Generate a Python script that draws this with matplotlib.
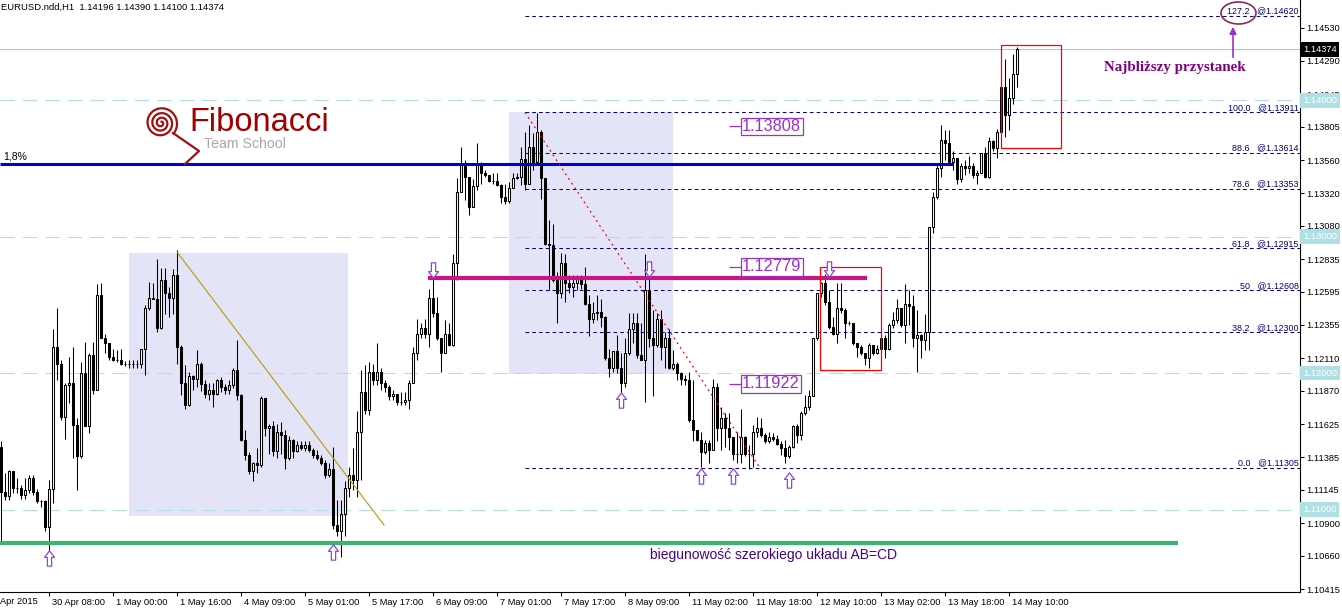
import numpy as np
import matplotlib
matplotlib.use('Agg')
import matplotlib.pyplot as plt
import matplotlib.patches as patches
import matplotlib.transforms as mtransforms
from matplotlib.path import Path

plt.rcParams['font.family'] = ['Liberation Sans', 'DejaVu Sans']

# EURUSD H1 candles (open = previous close)
first_open = 1.1146
closes = [1.1113, 1.1110, 1.1128, 1.1116, 1.1116, 1.1111, 1.1114, 1.1123, 1.1113, 1.1106,
          1.1106, 1.1087, 1.1115, 1.1219, 1.1207, 1.1168, 1.1191, 1.1193, 1.1162, 1.1139,
          1.1200, 1.1161, 1.1213, 1.1188, 1.1257, 1.1226, 1.1222, 1.1212, 1.1210, 1.1210,
          1.1207, 1.1207, 1.1207, 1.1207, 1.1207, 1.1218, 1.1248, 1.1255, 1.1254, 1.1233,
          1.1268, 1.1259, 1.1255, 1.1272, 1.1219, 1.1193, 1.1177, 1.1198, 1.1196, 1.1207,
          1.1192, 1.1185, 1.1188, 1.1185, 1.1195, 1.1190, 1.1188, 1.1191, 1.1202, 1.1184,
          1.1151, 1.1140, 1.1128, 1.1134, 1.1133, 1.1182, 1.1160, 1.1161, 1.1143, 1.1157,
          1.1155, 1.1138, 1.1151, 1.1143, 1.1147, 1.1145, 1.1147, 1.1144, 1.1140, 1.1138,
          1.1134, 1.1125, 1.1130, 1.1089, 1.1084, 1.1097, 1.1116, 1.1125, 1.1122, 1.1157,
          1.1186, 1.1173, 1.1201, 1.1195, 1.1201, 1.1193, 1.1190, 1.1183, 1.1185, 1.1179,
          1.1179, 1.1180, 1.1193, 1.1215, 1.1229, 1.1233, 1.1229, 1.1255, 1.1244, 1.1226,
          1.1215, 1.1229, 1.1221, 1.1281, 1.1333, 1.1353, 1.1344, 1.1322, 1.1337, 1.1354,
          1.1347, 1.1345, 1.1341, 1.1341, 1.1338, 1.1329, 1.1326, 1.1336, 1.1343, 1.1344,
          1.1357, 1.1339, 1.1366, 1.1355, 1.1377, 1.1343, 1.1295, 1.1294, 1.1268, 1.1259,
          1.1281, 1.1266, 1.1263, 1.1266, 1.1269, 1.1265, 1.1251, 1.1240, 1.1244, 1.1245,
          1.1241, 1.1211, 1.1204, 1.1216, 1.1204, 1.1193, 1.1215, 1.1232, 1.1237, 1.1213,
          1.1210, 1.1261, 1.1226, 1.1221, 1.1240, 1.1219, 1.1226, 1.1204, 1.1207, 1.1200,
          1.1196, 1.1195, 1.1166, 1.1158, 1.1151, 1.1142, 1.1149, 1.1144, 1.1190, 1.1160,
          1.1167, 1.1160, 1.1153, 1.1141, 1.1141, 1.1153, 1.1141, 1.1141, 1.1157, 1.1160,
          1.1155, 1.1150, 1.1153, 1.1152, 1.1148, 1.1145, 1.1139, 1.1146, 1.1161, 1.1155,
          1.1171, 1.1175, 1.1183, 1.1226, 1.1259, 1.1266, 1.1252, 1.1234, 1.1229, 1.1248,
          1.1246, 1.1237, 1.1237, 1.1222, 1.1219, 1.1215, 1.1211, 1.1221, 1.1215, 1.1218,
          1.1226, 1.1218, 1.1235, 1.1239, 1.1248, 1.1235, 1.1251, 1.1249, 1.1226, 1.1228,
          1.1224, 1.1230, 1.1307, 1.1329, 1.1350, 1.1371, 1.1369, 1.1355, 1.1358, 1.1342,
          1.1352, 1.1350, 1.1352, 1.1345, 1.1347, 1.1361, 1.1344, 1.1370, 1.1365, 1.1377,
          1.1410, 1.1389, 1.1402, 1.14196, 1.14374]
highs = [1.1150, 1.1127, 1.1129, 1.1128, 1.1123, 1.1118, 1.1123, 1.1125, 1.1125, 1.1115,
         1.1107, 1.1107, 1.1122, 1.1232, 1.1248, 1.1210, 1.1193, 1.1212, 1.1219, 1.1167,
         1.1208, 1.1223, 1.1215, 1.1223, 1.1265, 1.1266, 1.1229, 1.1222, 1.1218, 1.1217,
         1.1218, 1.1209, 1.1210, 1.1210, 1.1210, 1.1218, 1.1250, 1.1267, 1.1266, 1.1284,
         1.1277, 1.1277, 1.1263, 1.1276, 1.1290, 1.1221, 1.1206, 1.1201, 1.1199, 1.1217,
         1.1208, 1.1195, 1.1193, 1.1193, 1.1196, 1.1197, 1.1192, 1.1195, 1.1204, 1.1224,
         1.1185, 1.1158, 1.1142, 1.1135, 1.1145, 1.1183, 1.1182, 1.1163, 1.1165, 1.1163,
         1.1164, 1.1158, 1.1154, 1.1152, 1.1150, 1.1150, 1.1150, 1.1150, 1.1145, 1.1144,
         1.1140, 1.1136, 1.1134, 1.1146, 1.1107, 1.1107, 1.1121, 1.1131, 1.1145, 1.1172,
         1.1202, 1.1206, 1.1208, 1.1207, 1.1222, 1.1204, 1.1195, 1.1191, 1.1188, 1.1185,
         1.1186, 1.1186, 1.1195, 1.1219, 1.1240, 1.1237, 1.1240, 1.1262, 1.1270, 1.1256,
         1.1226, 1.1239, 1.1237, 1.1287, 1.1343, 1.1366, 1.1356, 1.1344, 1.1342, 1.1369,
         1.1355, 1.1349, 1.1345, 1.1347, 1.1347, 1.1339, 1.1339, 1.1340, 1.1347, 1.1347,
         1.1366, 1.1377, 1.1382, 1.1376, 1.1391, 1.1378, 1.1343, 1.1312, 1.1309, 1.1274,
         1.1288, 1.1287, 1.1272, 1.1272, 1.1272, 1.1272, 1.1278, 1.1257, 1.1252, 1.1257,
         1.1254, 1.1242, 1.1218, 1.1216, 1.1228, 1.1215, 1.1226, 1.1244, 1.1244, 1.1244,
         1.1237, 1.1287, 1.1273, 1.1246, 1.1244, 1.1246, 1.1230, 1.1232, 1.1217, 1.1208,
         1.1201, 1.1199, 1.1201, 1.1195, 1.1157, 1.1157, 1.1151, 1.1151, 1.1196, 1.1193,
         1.1175, 1.1171, 1.1171, 1.1153, 1.1157, 1.1174, 1.1154, 1.1147, 1.1162, 1.1168,
         1.1167, 1.1156, 1.1157, 1.1156, 1.1155, 1.1150, 1.1151, 1.1147, 1.1162, 1.1163,
         1.1172, 1.1184, 1.1188, 1.1226, 1.1259, 1.1267, 1.1273, 1.1261, 1.1241, 1.1266,
         1.1266, 1.1248, 1.1238, 1.1237, 1.1222, 1.1221, 1.1215, 1.1222, 1.1221, 1.1221,
         1.1228, 1.1228, 1.1237, 1.1245, 1.1254, 1.1248, 1.1265, 1.1261, 1.1257, 1.1246,
         1.1229, 1.1243, 1.1307, 1.1333, 1.1353, 1.1382, 1.1378, 1.1378, 1.1363, 1.1358,
         1.1354, 1.1356, 1.1359, 1.1354, 1.1349, 1.1361, 1.1366, 1.1373, 1.1371, 1.1379,
         1.1411, 1.1430, 1.1416, 1.1434, 1.14390]
lows = [1.1075, 1.1107, 1.1107, 1.1112, 1.1112, 1.1108, 1.1108, 1.1112, 1.1111, 1.1105,
        1.1102, 1.1084, 1.1070, 1.1105, 1.1195, 1.1166, 1.1152, 1.1178, 1.1138, 1.1114,
        1.1138, 1.1161, 1.1156, 1.1185, 1.1188, 1.1226, 1.1215, 1.1210, 1.1209, 1.1208,
        1.1206, 1.1205, 1.1204, 1.1204, 1.1204, 1.1204, 1.1199, 1.1246, 1.1254, 1.1230,
        1.1232, 1.1243, 1.1241, 1.1243, 1.1207, 1.1184, 1.1174, 1.1176, 1.1188, 1.1190,
        1.1187, 1.1182, 1.1180, 1.1175, 1.1184, 1.1186, 1.1185, 1.1185, 1.1189, 1.1180,
        1.1150, 1.1136, 1.1126, 1.1121, 1.1127, 1.1131, 1.1154, 1.1141, 1.1139, 1.1138,
        1.1141, 1.1130, 1.1136, 1.1138, 1.1142, 1.1144, 1.1143, 1.1142, 1.1138, 1.1136,
        1.1133, 1.1123, 1.1124, 1.1086, 1.1081, 1.1065, 1.1081, 1.1109, 1.1114, 1.1109,
        1.1122, 1.1170, 1.1169, 1.1191, 1.1191, 1.1188, 1.1186, 1.1180, 1.1180, 1.1177,
        1.1177, 1.1177, 1.1174, 1.1193, 1.1210, 1.1226, 1.1226, 1.1219, 1.1241, 1.1224,
        1.1201, 1.1215, 1.1220, 1.1220, 1.1268, 1.1333, 1.1327, 1.1316, 1.1322, 1.1334,
        1.1339, 1.1344, 1.1340, 1.1339, 1.1337, 1.1325, 1.1324, 1.1325, 1.1336, 1.1342,
        1.1338, 1.1334, 1.1339, 1.1349, 1.1354, 1.1328, 1.1294, 1.1261, 1.1267, 1.1237,
        1.1255, 1.1252, 1.1259, 1.1256, 1.1261, 1.1262, 1.1250, 1.1227, 1.1237, 1.1239,
        1.1234, 1.1210, 1.1197, 1.1201, 1.1200, 1.1182, 1.1190, 1.1213, 1.1222, 1.1211,
        1.1210, 1.1179, 1.1219, 1.1183, 1.1219, 1.1210, 1.1204, 1.1203, 1.1202, 1.1195,
        1.1191, 1.1191, 1.1164, 1.1150, 1.1150, 1.1131, 1.1141, 1.1134, 1.1144, 1.1150,
        1.1144, 1.1146, 1.1144, 1.1136, 1.1134, 1.1134, 1.1139, 1.1130, 1.1131, 1.1153,
        1.1153, 1.1149, 1.1149, 1.1150, 1.1147, 1.1140, 1.1134, 1.1138, 1.1145, 1.1149,
        1.1151, 1.1169, 1.1173, 1.1183, 1.1224, 1.1256, 1.1250, 1.1232, 1.1228, 1.1222,
        1.1244, 1.1226, 1.1235, 1.1221, 1.1212, 1.1213, 1.1206, 1.1204, 1.1213, 1.1214,
        1.1215, 1.1211, 1.1217, 1.1233, 1.1237, 1.1234, 1.1222, 1.1235, 1.1219, 1.1201,
        1.1211, 1.1217, 1.1217, 1.1303, 1.1328, 1.1344, 1.1356, 1.1354, 1.1349, 1.1339,
        1.1340, 1.1345, 1.1347, 1.1343, 1.1339, 1.1347, 1.1343, 1.1343, 1.1363, 1.1358,
        1.1376, 1.1373, 1.1378, 1.1397, 1.14100]

# axis labels
y_tick_labels = ['1.14530', '1.14290', '1.14045', '1.13805', '1.13560', '1.13320', '1.13080',
                 '1.12835', '1.12595', '1.12355', '1.12110', '1.11870', '1.11625', '1.11385',
                 '1.11145', '1.10900', '1.10660', '1.10415']
x_tick_bars = [12, 28, 44, 60, 76, 92, 108, 124, 140, 156, 172, 188, 204, 220, 236, 252]
x_tick_labels = ['30 Apr 08:00', '1 May 00:00', '1 May 16:00', '4 May 09:00', '5 May 01:00',
                 '5 May 17:00', '6 May 09:00', '7 May 01:00', '7 May 17:00', '8 May 09:00',
                 '11 May 02:00', '11 May 18:00', '12 May 10:00', '13 May 02:00',
                 '13 May 18:00', '14 May 10:00']

# drawn objects
round_levels = [1.14, 1.13, 1.12, 1.11]
fib_names = ['127.2', '100.0', '88.6', '78.6', '61.8', '50', '38.2', '0.0']
fib_prices = [1.14620, 1.13911, 1.13614, 1.13353, 1.12915, 1.12608, 1.12300, 1.11305]
fib_start = 131
fib_anchor = [(131, 1.13911), (189.75, 1.11305)]
last_price = 1.14374
blue_level, blue_end = 1.13532, 238
magenta_level, magenta_span = 1.12697, (106.75, 216.5)
green_level, green_end = 1.10755, 294.25
trend_line = [(44, 1.12888), (95.75, 1.10887)]
shade_boxes = [(32, 86.75, 1.10953, 1.12881), (127, 168, 1.11994, 1.13914)]
red_boxes = [(204.75, 220, 1.12023, 1.12778), (250, 265, 1.13650, 1.14405)]
price_tags = [1.13808, 1.12779, 1.11922]
up_marks = [(12, 1.10645), (83, 1.10689), (155, 1.11803), (175, 1.11246), (183, 1.11246), (197, 1.11217)]
down_marks = [(108, 1.12756), (162, 1.12763), (207, 1.12763)]

W, H = 1342, 608
fig = plt.figure(figsize=(W / 100, H / 100), dpi=100)
ax = fig.add_axes([0, 16 / H, 1300 / W, 592 / H])
ax.set_xlim(-0.25, 324.75)
ax.set_ylim(1.10396, 1.14735)

purple = '#9932cc'
navy = '#000080'

# background boxes
for x0, x1, p0, p1 in shade_boxes:
    ax.add_patch(patches.Rectangle((x0, p0), x1 - x0, p1 - p0, fc='#e4e4f8', ec='none', zorder=0.5))

for lv in round_levels:
    ax.axhline(lv, color='#b0e0e6', lw=0.75, ls=(0, (14, 7.5)), zorder=1)

ax.axhline(last_price, color='#c0c0c0', lw=0.75, zorder=1)

for name, p in zip(fib_names, fib_prices):
    ax.hlines(p, fib_start, 324.75, color=navy, lw=0.75, ls=(0, (3.5, 3)), zorder=1.5)
    ax.text(324.4, p + 0.00003, name + '   @' + f'{p:.5f}', ha='right', va='bottom',
            fontsize=6.4, color=navy, zorder=6)

# candles
idx = np.arange(len(closes))
c = np.array(closes)
o = np.concatenate([[first_open], c[:-1]])
ax.vlines(idx, lows, highs, color='black', lw=0.75, zorder=3)
ax.bar(idx, c - o, bottom=o, width=0.55, color=np.where(c >= o, 'white', 'black'),
       edgecolor='black', linewidth=0.75, zorder=4)

# lines
ax.hlines(blue_level, -0.25, blue_end, color='#0000cd', lw=2.2, zorder=5)
ax.hlines(magenta_level, *magenta_span, color='#c71585', lw=3.0, zorder=5)
ax.hlines(green_level, -0.25, green_end, color='#3cb371', lw=3.0, zorder=5)
ax.plot(*zip(*trend_line), color='#b89b00', lw=0.8, zorder=5)
ax.plot(*zip(*fib_anchor), color='red', lw=0.9, ls=(0, (1.5, 3)), zorder=5)

for x0, x1, p0, p1 in red_boxes:
    ax.add_patch(patches.Rectangle((x0, p0), x1 - x0, p1 - p0, fc='none', ec='red', lw=0.9, zorder=5))

for p in price_tags:
    ax.hlines(p, 182, 185, color=purple, lw=0.9, zorder=6)
    ax.text(185.3, p, f'{p:.5f}', va='center', ha='left', fontsize=11.8, color=purple,
            bbox=dict(boxstyle='square,pad=0.08', fc='white', ec=purple, lw=0.9), zorder=7)

up_path = Path([(0, 1), (0.65, 0.15), (0.28, 0.15), (0.28, -1), (-0.28, -1), (-0.28, 0.15),
                (-0.65, 0.15), (0, 1)],
               [Path.MOVETO] + [Path.LINETO] * 6 + [Path.CLOSEPOLY])
down_path = Path(up_path.vertices * [1, -1], up_path.codes)
for xi, p in up_marks:
    ax.plot(xi, p, marker=up_path, ms=11, mfc='white', mec='#9640e6', mew=0.9, zorder=7)
for xi, p in down_marks:
    ax.plot(xi, p, marker=down_path, ms=11, mfc='white', mec='#9640e6', mew=0.9, zorder=7)

ax.text(0.5, blue_level + 0.0002, '1,8%', fontsize=7.5, color='black', va='bottom', ha='left', zorder=6)
ax.text(162.3, green_level - 0.00035, 'biegunowość szerokiego układu AB=CD', fontsize=10,
        color='#4b0082', va='top', ha='left', zorder=6)

# axes styling
for s in ['top', 'left']:
    ax.spines[s].set_visible(False)
for s in ['right', 'bottom']:
    ax.spines[s].set_linewidth(0.8)
ax.set_yticks([float(t) for t in y_tick_labels])
ax.set_yticklabels(y_tick_labels)
ax.yaxis.tick_right()
ax.tick_params(axis='y', direction='out', length=3, width=0.75, labelsize=6.7, pad=1.5)
ax.set_xticks(x_tick_bars)
ax.set_xticklabels(x_tick_labels, ha='left')
ax.tick_params(axis='x', direction='out', length=3, width=0.75, labelsize=6.7, pad=1.5)
shift = mtransforms.ScaledTranslation(2 / 72, 0, fig.dpi_scale_trans)
for lbl in ax.get_xticklabels():
    lbl.set_transform(lbl.get_transform() + shift)

# price boxes on the right axis
side = mtransforms.blended_transform_factory(ax.transAxes, ax.transData)
for lv in round_levels:
    ax.text(1.0 + 3 / 1300, lv, f'{lv:.5f}', transform=side, va='center', ha='left', fontsize=6.7,
            color='white', bbox=dict(boxstyle='square,pad=0.3', fc='#b0e0e6', ec='none'),
            zorder=10, clip_on=False)
ax.text(1.0 + 3 / 1300, last_price, f'{last_price:.5f}', transform=side, va='center', ha='left',
        fontsize=6.7, color='white', bbox=dict(boxstyle='square,pad=0.3', fc='black', ec='none'),
        zorder=10, clip_on=False)

# screen-anchored overlay (header, logo, note)
ov = fig.add_axes([0, 0, 1, 1])
ov.set_xlim(0, W)
ov.set_ylim(H, 0)
ov.axis('off')
ov.patch.set_alpha(0)
ov.set_zorder(10)

ov.text(1, 7, 'EURUSD.ndd,H1  1.14196 1.14390 1.14100 1.14374', fontsize=6.8, va='center', ha='left')
ov.text(0, 601, 'Apr 2015', fontsize=6.7, va='center', ha='left')

# logo
t = np.linspace(0, 1, 400)
phi = np.deg2rad(40) - (1 - t) * 3.3 * 2 * np.pi
r = 1.5 + 15 * t ** 1.1
ov.plot(161 + r * np.cos(phi), 123 + r * np.sin(phi), color='#a01010', lw=1.6)
ov.plot([173, 199, 185], [133, 151, 164], color='#a01010', lw=1.6)
ov.text(189, 131, 'Fibonacci', fontsize=23.5, color='#a00000', va='baseline', ha='left')
ov.text(204, 148, 'Team School', fontsize=10.2, color='#a8a8a8', va='baseline', ha='left')

ov.add_patch(patches.Ellipse((1238.5, 13), 35, 22, fc='none', ec='#8b2a5a', lw=1.2))
ov.annotate('', xy=(1233, 24), xytext=(1233, 60),
            arrowprops=dict(arrowstyle='-|>', color='#9932cc', lw=1.2, mutation_scale=10))
ov.text(1175, 68, 'Najbliższy przystanek', fontsize=10.8, fontweight='bold', family='Liberation Serif',
        color='#800080', va='center', ha='center')

fig.savefig('out.png', dpi=100)
